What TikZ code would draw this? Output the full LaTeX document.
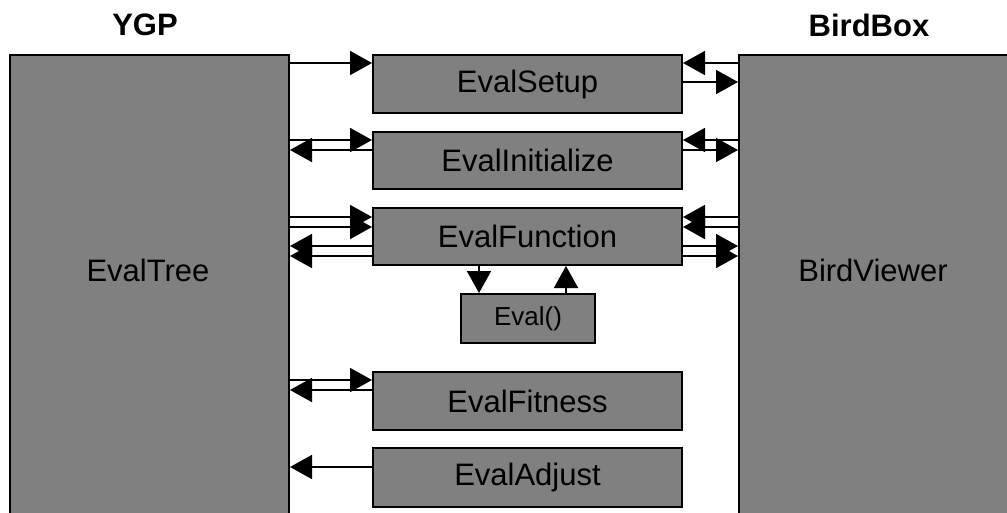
\documentclass[tikz,border=0pt]{standalone}
\usepackage{fontspec}
\setmainfont{Liberation Sans}
\usetikzlibrary{arrows.meta}
\definecolor{boxgray}{RGB}{128,128,128}
\tikzset{
  box/.style={draw=black, line width=2pt, fill=boxgray, rectangle, inner sep=0pt},
  midbox/.style={box, minimum width=309pt, font=\fontsize{31}{36}\selectfont},
  bigtxt/.style={font=\fontsize{31}{36}\selectfont, inner sep=0pt},
  title/.style={font=\fontsize{31}{36}\selectfont\bfseries, inner sep=0pt},
  arr/.style={line width=1.8pt, -{Triangle[length=22pt 0 0,width=24pt 0 0]}},
}
\begin{document}
\begin{tikzpicture}[x=1pt,y=-1pt]
\useasboundingbox (0,0) rectangle (1007,512);
\begin{scope}
\clip (0,0) rectangle (1007,512);
% big boxes
\node[box, minimum width=279pt, minimum height=470pt, anchor=north west] (T) at (9,54) {};
\node[box, minimum width=280pt, minimum height=470pt, anchor=north west] (R) at (738,54) {};
\end{scope}
\node[bigtxt] (Tl) at (148,270) {EvalTree};
\node[bigtxt] (Rl) at (873,270) {BirdViewer};
\node[title] (Y) at (145,25) {YGP};
\node[title] (B) at (869,25) {BirdBox};
% middle boxes
\node[midbox, minimum height=58pt] (S) at (527.5,84) {EvalSetup};
\node[midbox, minimum height=57pt] (I) at (527.5,160.5) {EvalInitialize};
\node[midbox, minimum height=57pt] (F) at (527.5,236.5) {EvalFunction};
\node[box, minimum width=134pt, minimum height=49pt, font=\fontsize{26}{30}\selectfont] (E) at (528,318.5) {Eval()};
\node[midbox, minimum height=58pt] (Fi) at (527.5,401) {EvalFitness};
\node[midbox, minimum height=59pt] (A) at (527.5,477.5) {EvalAdjust};
% level coordinates
\coordinate (s1) at ([yshift=-9pt]S.north);
\coordinate (s2) at ([yshift=-28pt]S.north);
\coordinate (i1) at ([yshift=-9pt]I.north);
\coordinate (i2) at ([yshift=-19pt]I.north);
\coordinate (f1) at ([yshift=-10pt]F.north);
\coordinate (f2) at ([yshift=-20pt]F.north);
\coordinate (f3) at ([yshift=-39pt]F.north);
\coordinate (f4) at ([yshift=-49pt]F.north);
\coordinate (t1) at ([yshift=-9pt]Fi.north);
\coordinate (t2) at ([yshift=-19pt]Fi.north);
\coordinate (a1) at ([yshift=-20pt]A.north);
% EvalSetup
\draw[arr] (s1 -| T.east) -- (s1 -| S.west);
\draw[arr] (s1 -| R.west) -- (s1 -| S.east);
\draw[arr] (s2 -| S.east) -- (s2 -| R.west);
% EvalInitialize
\draw[arr] (i1 -| T.east) -- (i1 -| I.west);
\draw[arr] (i2 -| I.west) -- (i2 -| T.east);
\draw[arr] (i1 -| R.west) -- (i1 -| I.east);
\draw[arr] (i2 -| I.east) -- (i2 -| R.west);
% EvalFunction
\draw[arr] (f1 -| T.east) -- (f1 -| F.west);
\draw[arr] (f2 -| T.east) -- (f2 -| F.west);
\draw[arr] (f3 -| F.west) -- (f3 -| T.east);
\draw[arr] (f4 -| F.west) -- (f4 -| T.east);
\draw[arr] (f1 -| R.west) -- (f1 -| F.east);
\draw[arr] (f2 -| R.west) -- (f2 -| F.east);
\draw[arr] (f3 -| F.east) -- (f3 -| R.west);
\draw[arr] (f4 -| F.east) -- (f4 -| R.west);
% Eval
\coordinate (e1) at (479,0);
\coordinate (e2) at (566,0);
\draw[arr] (e1 |- F.south) -- (e1 |- E.north);
\draw[arr] (e2 |- E.north) -- (e2 |- F.south);
% EvalFitness
\draw[arr] (t1 -| T.east) -- (t1 -| Fi.west);
\draw[arr] (t2 -| Fi.west) -- (t2 -| T.east);
% EvalAdjust
\draw[arr] (a1 -| A.west) -- (a1 -| T.east);
\end{tikzpicture}
\end{document}
